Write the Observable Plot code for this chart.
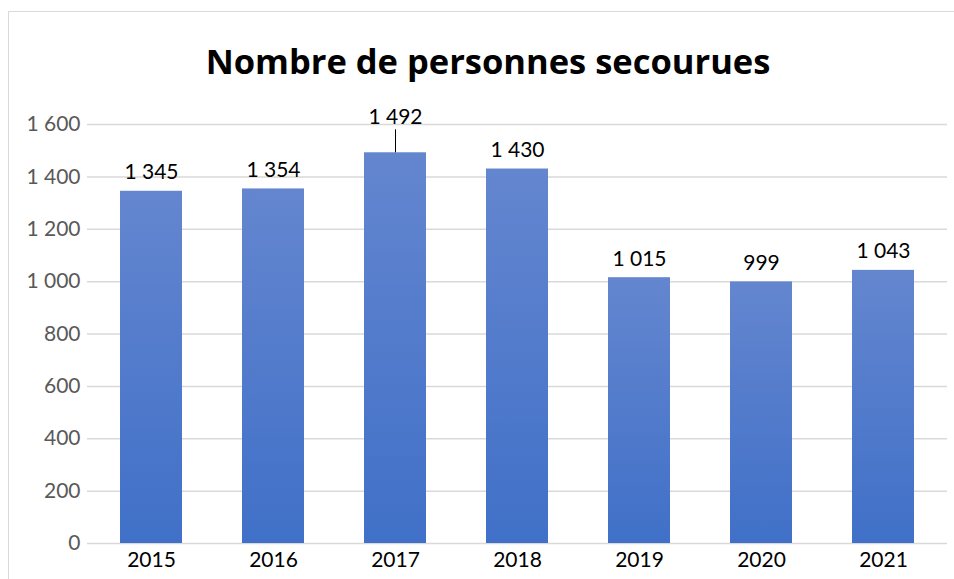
<!DOCTYPE html>
<html>
<head>
<meta charset="utf-8">
<script src="https://cdn.jsdelivr.net/npm/d3@7"></script>
<script src="https://cdn.jsdelivr.net/npm/@observablehq/plot@0.6"></script>
<style>
  body { margin: 0; background: #fff; }
  #wrap { position: relative; width: 954px; height: 579px; overflow: hidden; font-family: Lato, "Open Sans", sans-serif; }
  #frame { position: absolute; left: 8px; top: 11px; width: 980px; height: 620px; border: 1.5px solid #d9d9d9; box-sizing: border-box; }
  #title { position: relative; height: 100px; box-sizing: border-box; padding-top: 43px; margin: 0; font-family: "Open Sans", Lato, sans-serif; font-size: 34.5px; line-height: 35px; font-weight: 700; text-align: center; color: #000; padding-left: 22px; }
  #chart { position: relative; }
</style>
</head>
<body>
<div id="wrap">
  <div id="frame"></div>
  <h1 id="title">Nombre de personnes secourues</h1>
  <div id="chart"></div>
</div>
<script>
const years = ["2015", "2016", "2017", "2018", "2019", "2020", "2021"];
const persons = [1345, 1354, 1492, 1430, 1015, 999, 1043];
const yTicks = [0, 200, 400, 600, 800, 1000, 1200, 1400, 1600];
const raisedLabelYear = "2017";

const data = years.map((y, i) => ({year: y, value: persons[i]}));
const fmt = v => d3.format(",")(v).replace(/,/g, " ");

const plot = Plot.plot({
  width: 954,
  height: 479,
  marginTop: 24,
  marginBottom: 36,
  marginLeft: 87,
  marginRight: 7,
  style: {fontFamily: "Lato, 'Open Sans', sans-serif", fontSize: "21px", background: "transparent", overflow: "visible"},
  x: {domain: years, paddingInner: 0.4946, paddingOuter: 0.2446, label: null},
  y: {domain: [0, 1600], label: null},
  marks: [
    Plot.ruleY(yTicks, {stroke: "#d9d9d9", strokeWidth: 1.5}),
    Plot.barY(data, {x: "year", y: "value", fill: "url(#barGrad)"}),
    Plot.axisY(yTicks, {tickSize: 0, tickPadding: 7, tickFormat: fmt, fill: "#595959", fontSize: 21, label: null}),
    Plot.axisX({tickSize: 0, tickPadding: 9, fill: "#000", fontSize: 21, label: null}),
    Plot.text(data.filter(d => d.year !== raisedLabelYear), {x: "year", y: "value", text: d => fmt(d.value), lineAnchor: "bottom", dy: -12, fill: "#000", fontSize: 21}),
    Plot.text(data.filter(d => d.year === raisedLabelYear), {x: "year", y: "value", text: d => fmt(d.value), lineAnchor: "bottom", dy: -29, fill: "#000", fontSize: 21}),
    Plot.ruleX(data.filter(d => d.year === raisedLabelYear), {x: "year", y1: "value", y2: "value", insetBottom: 23, stroke: "#000", strokeWidth: 1})
  ]
});

const defs = d3.select(plot).insert("defs", ":first-child");
const g = defs.append("linearGradient").attr("id", "barGrad").attr("x1", 0).attr("y1", 0).attr("x2", 0).attr("y2", 1);
g.append("stop").attr("offset", "0%").attr("stop-color", "#6486cf");
g.append("stop").attr("offset", "100%").attr("stop-color", "#4070c8");

document.getElementById("chart").appendChild(plot);
</script>
</body>
</html>
